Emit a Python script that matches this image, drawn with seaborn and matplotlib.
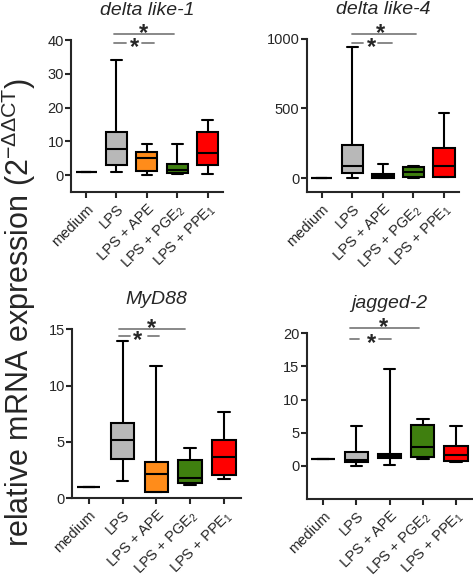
import numpy as np
import pandas as pd
import matplotlib
matplotlib.use("Agg")
import matplotlib.pyplot as plt
import seaborn as sns

# ---- data: five-number summaries [min, q1, median, q3, max] per group ----
groups = ["medium", "LPS", "LPS + APE", "LPS + PGE2", "LPS + PPE1"]
group_labels = ["medium", "LPS", "LPS + APE", r"LPS + PGE$_2$", r"LPS + PPE$_1$"]
group_colors = ["#ffffff", "#b8b8b8", "#ff8c1a", "#3f7f0f", "#ff0000"]

dll1_values = [[1, 1, 1, 1, 1],
               [1.0, 3.1, 7.6, 12.7, 34.2],
               [0.0, 1.1, 5.1, 6.8, 9.3],
               [0.4, 0.7, 1.4, 3.3, 9.1],
               [0.3, 3.1, 6.6, 12.7, 16.4]]
dll4_values = [[0, 0, 0, 0, 0],
               [2, 34, 88, 237, 940],
               [0, 2, 14, 27, 100],
               [4, 7, 43, 79, 88],
               [5, 9, 84, 216, 467]]
myd88_values = [[1, 1, 1, 1, 1],
                [1.55, 3.5, 5.17, 6.65, 13.95],
                [0.53, 0.53, 2.13, 3.22, 11.74],
                [1.18, 1.33, 1.77, 3.4, 4.49],
                [1.74, 2.1, 3.69, 5.17, 7.69]]
jag2_values = [[1, 1, 1, 1, 1],
               [0.0, 0.55, 0.9, 2.1, 6.04],
               [0.2, 1.2, 1.5, 1.8, 14.65],
               [1.05, 1.3, 2.8, 6.1, 7.0],
               [0.55, 0.7, 1.57, 2.97, 6.04]]

titles = ["delta like-1", "delta like-4", "MyD88", "jagged-2"]
yticks = [[0, 10, 20, 30, 40], [0, 500, 1000], [0, 5, 10, 15], [0, 5, 10, 15, 20]]
ylims = [(-5, 40), (-100, 1000), (0, 15), (-5, 20)]

# significance marks: (long x0, x1, y, star x), (short dash1, dash2, y, star x)
sig_long = [(0.92, 2.9, 41.8, 1.88), (0.99, 3.07, 1036, 1.93),
            (0.9, 2.85, 15.08, 1.86), (0.8, 2.9, 20.75, 1.83)]
sig_short = [((0.92, 1.32), (1.84, 2.24), 39.0, 1.58),
             ((1.0, 1.35), (1.84, 2.29), 969, 1.64),
             ((0.9, 1.22), (1.76, 2.09), 14.4, 1.45),
             ((0.8, 1.07), (1.67, 2.05), 19.1, 1.45)]

# ---- styling ----
sns.set_style("ticks")
plt.rcParams["font.family"] = ["Liberation Sans", "DejaVu Sans"]
plt.rcParams["mathtext.fontset"] = "custom"
plt.rcParams["mathtext.rm"] = "Liberation Sans"
plt.rcParams["mathtext.it"] = "Liberation Sans:italic"
plt.rcParams["mathtext.default"] = "regular"

fig = plt.figure(figsize=(4.73, 5.80), dpi=100)
rects = [(0.150, 0.669, 0.321, 0.262),
         (0.648, 0.669, 0.323, 0.264),
         (0.1516, 0.141, 0.358, 0.291),
         (0.648, 0.1397, 0.351, 0.2857)]
all_values = [dll1_values, dll4_values, myd88_values, jag2_values]

for i, (vals, rect) in enumerate(zip(all_values, rects)):
    ax = fig.add_axes(rect)
    rows = []
    for g, v in zip(groups, vals):
        for x in v:
            rows.append((g, x))
    df = pd.DataFrame(rows, columns=["group", "value"])
    sns.boxplot(data=df, x="group", y="value", hue="group", order=groups,
                hue_order=groups, palette=group_colors, whis=(0, 100),
                width=0.7, linewidth=1.5, linecolor="black", legend=False,
                fliersize=0, saturation=1, ax=ax)
    ax.set_xlim(-0.5, 4.5)
    ax.set_ylim(*ylims[i])
    ax.set_yticks(yticks[i])
    ax.set_xticks(range(5))
    ax.set_xticklabels(group_labels, rotation=45, ha="right",
                       rotation_mode="anchor", fontsize=10.5)
    ax.tick_params(axis="y", labelsize=10.5, width=1.5, length=4, pad=1)
    ax.tick_params(axis="x", width=1.5, length=4, pad=3)
    ax.set_xlabel("")
    ax.set_ylabel("")
    for s in ["top", "right"]:
        ax.spines[s].set_visible(False)
    for s in ["left", "bottom"]:
        ax.spines[s].set_linewidth(1.5)
    ax.set_title(titles[i], fontsize=14, style="italic", pad=18)

    # significance marks
    x0, x1, y, xs = sig_long[i]
    ax.plot([x0, x1], [y, y], color="#7f7f7f", lw=1.3, clip_on=False)
    ax.annotate("*", (xs, y), xytext=(0, -8), textcoords="offset points",
                ha="center", va="bottom", fontsize=17, fontweight="bold",
                annotation_clip=False)
    d1, d2, y2, xs2 = sig_short[i]
    ax.plot(d1, [y2, y2], color="#7f7f7f", lw=1.3, clip_on=False)
    ax.plot(d2, [y2, y2], color="#7f7f7f", lw=1.3, clip_on=False)
    ax.annotate("*", (xs2, y2), xytext=(0, -11.5), textcoords="offset points",
                ha="center", va="bottom", fontsize=17, fontweight="bold",
                annotation_clip=False)

fig.text(0.040, 1 - 312 / 580, r"relative mRNA expression (2$^{-ΔΔCT}$)",
         rotation=90, ha="center", va="center", fontsize=22)

fig.savefig("out.png", dpi=100)
